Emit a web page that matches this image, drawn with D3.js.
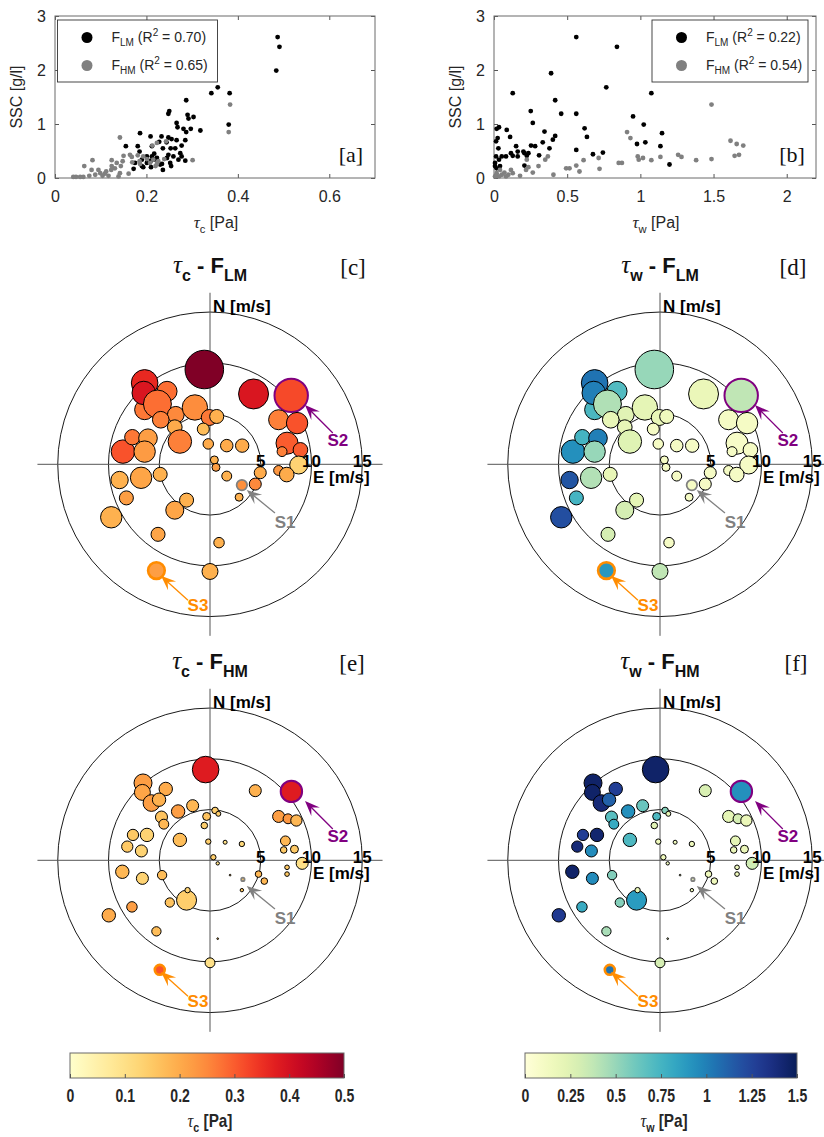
<!DOCTYPE html>
<html>
<head>
<meta charset="utf-8">
<script src="https://cdn.jsdelivr.net/npm/d3@7"></script>
<style>
  body { margin: 0; background: #fff; }
</style>
</head>
<body>
<svg id="fig" width="824" height="1137"></svg>
<script>
// ---- scatter [a]: tau_c [Pa] vs SSC [g/l]
const scatterA_LM = [[0.487,2.61],[0.491,2.43],[0.484,1.99],[0.356,1.68],[0.342,1.57],[0.382,1.57],[0.287,1.44],[0.380,0.99],
  [0.248,1.19],[0.250,1.24],[0.266,1.02],[0.290,1.17],[0.292,1.10],[0.303,1.13],[0.268,0.94],[0.281,0.91],[0.297,0.91],
  [0.318,0.88],[0.287,0.85],[0.186,0.83],[0.209,0.77],[0.233,0.77],[0.248,0.75],[0.255,0.72],[0.155,0.59],[0.181,0.59],
  [0.185,0.49],[0.212,0.59],[0.228,0.67],[0.244,0.66],[0.266,0.70],[0.285,0.70],[0.277,0.60],[0.263,0.55],[0.253,0.55],
  [0.236,0.55],[0.217,0.45],[0.201,0.40],[0.212,0.40],[0.223,0.37],[0.248,0.43],[0.259,0.40],[0.274,0.46],[0.270,0.34],
  [0.277,0.40],[0.285,0.32],[0.252,0.28],[0.234,0.26],[0.217,0.34],[0.201,0.28],[0.190,0.34],[0.193,0.20],[0.175,0.28],
  [0.172,0.17],[0.190,0.22],[0.210,0.20],[0.236,0.15],[0.230,0.25],[0.245,0.37],[0.254,0.22],[0.210,0.32]];
const scatterA_HM = [[0.383,1.36],[0.380,0.85],[0.301,0.33],[0.142,0.75],[0.243,0.68],[0.223,0.65],[0.213,0.60],[0.164,0.43],
  [0.150,0.41],[0.168,0.39],[0.181,0.42],[0.193,0.40],[0.201,0.35],[0.185,0.31],[0.169,0.29],[0.148,0.31],[0.135,0.28],
  [0.124,0.33],[0.208,0.28],[0.223,0.26],[0.215,0.34],[0.144,0.22],[0.131,0.18],[0.123,0.15],[0.112,0.12],[0.099,0.09],
  [0.109,0.08],[0.088,0.06],[0.080,0.15],[0.082,0.33],[0.075,0.04],[0.095,0.15],[0.064,0.22],[0.062,0.02],[0.055,0.02],
  [0.040,0.02],[0.046,0.02],[0.104,0.04],[0.117,0.04],[0.142,0.09],[0.139,0.03],[0.161,0.08],[0.124,0.22],[0.186,0.26],
  [0.226,0.31],[0.239,0.35],[0.220,0.22]];

// ---- scatter [b]: tau_w [Pa] vs SSC [g/l]
const scatterB_LM = [[0.562,2.61],[0.840,2.43],[0.390,1.94],[0.128,1.57],[0.767,1.68],[1.075,1.57],[0.418,1.44],[0.251,1.24],
  [0.459,1.19],[0.562,1.19],[0.265,1.02],[0.619,0.92],[0.950,1.14],[1.023,0.99],[0.977,0.63],[1.034,0.66],[1.148,0.83],
  [1.137,0.59],[1.199,0.25],[0.635,0.76],[0.676,0.44],[0.744,0.47],[0.562,0.52],[0.418,0.78],[0.402,0.71],[0.379,0.55],
  [0.345,0.86],[0.333,0.66],[0.308,0.42],[0.281,0.59],[0.253,0.60],[0.201,0.49],[0.224,0.41],[0.208,0.23],[0.151,0.59],
  [0.162,0.49],[0.162,0.40],[0.128,0.41],[0.110,0.76],[0.087,0.89],[0.034,0.94],[0.018,0.91],[0.025,0.74],[0.014,0.68],
  [0.030,0.55],[0.053,0.40],[0.034,0.34],[0.014,0.40],[0.007,0.28],[0.018,0.18],[0.041,0.22],[0.007,0.22],[0.082,0.40],
  [0.116,0.46],[0.208,0.46],[0.235,0.46]];
const scatterB_HM = [[1.486,1.36],[0.909,0.85],[0.932,0.74],[0.982,0.40],[1.018,0.37],[1.075,0.33],[0.989,0.34],[1.137,0.39],
  [1.258,0.43],[1.281,0.39],[1.381,0.33],[1.486,0.35],[1.616,0.69],[1.658,0.63],[1.703,0.60],[1.644,0.41],[1.674,0.43],
  [0.852,0.28],[0.874,0.28],[0.721,0.17],[0.715,0.37],[0.612,0.33],[0.584,0.12],[0.562,0.23],[0.493,0.18],[0.516,0.18],
  [0.406,0.06],[0.368,0.40],[0.350,0.34],[0.304,0.22],[0.265,0.10],[0.219,0.15],[0.235,0.20],[0.224,0.34],[0.178,0.04],
  [0.128,0.09],[0.116,0.15],[0.098,0.06],[0.082,0.03],[0.053,0.06],[0.034,0.03],[0.018,0.09],[0.007,0.03],[0.041,0.15],
  [0.071,0.10]];

const legendA = ["0.70", "0.65"];
const legendB = ["0.22", "0.54"];
const sscTicks = [0, 1, 2, 3];

// ---- wind bubbles: [east m/s, north m/s, SSC g/l, tau_c Pa, tau_w Pa, event]
const bubblesLM = [
  [-0.56,9.34,2.57,0.50,0.50],[4.29,6.93,1.55,0.39,0.18],[8.00,6.79,1.93,0.32,0.38,"S2"],
  [-6.44,5.38,0.69,0.27,0.73],[-6.44,8.02,1.22,0.36,1.05],[-6.53,7.03,0.95,0.39,1.00],[-4.23,7.19,0.69,0.28,0.70],
  [-5.18,5.94,1.35,0.28,0.43],[-3.37,4.88,0.48,0.25,0.24],[-4.85,4.39,0.48,0.26,0.20],[-1.49,5.60,1.11,0.245,0.22],
  [-0.07,4.61,0.44,0.27,0.20],[0.66,4.71,0.34,0.19,0.15],[-3.47,3.66,0.37,0.20,0.20],[-2.97,2.24,0.95,0.26,0.25],
  [-0.66,3.47,0.25,0.17,0.10],[-0.17,2.01,0.19,0.20,0.10],[1.65,1.84,0.27,0.20,0.10],[3.17,1.84,0.31,0.20,0.10],
  [-8.58,1.25,0.95,0.31,0.93],[-7.65,2.67,0.41,0.27,0.75],[-6.11,2.57,0.60,0.22,1.00],[-6.44,1.25,0.79,0.225,0.50],
  [6.76,4.39,0.69,0.26,0.10],[8.58,4.06,0.79,0.31,0.10],[7.59,2.08,0.84,0.30,0.08],[8.91,1.42,0.37,0.30,0.10],
  [7.10,1.25,0.17,0.26,0.10],[8.74,-0.07,0.56,0.13,0.10],[6.76,-0.61,0.17,0.23,0.10],[7.56,-1.01,0.37,0.20,0.10],
  [0.43,0.43,0.11,0.19,0.10],[0.59,-0.30,0.11,0.22,0.10],[1.65,-1.16,0.17,0.19,0.10],[4.95,-0.83,0.25,0.20,0.10],
  [4.46,-1.95,0.25,0.25,0.10],[3.14,-2.05,0.19,0.24,0.10,"S1"],[2.87,-3.24,0.11,0.19,0.10],
  [-8.91,-1.55,0.52,0.19,1.17],[-6.79,-1.33,0.79,0.21,0.42],[-4.91,-0.99,0.34,0.19,0.20],[-8.24,-3.31,0.34,0.22,0.75],
  [-9.73,-5.22,0.79,0.19,1.20],[-3.47,-4.52,0.56,0.21,0.30],[-2.31,-3.53,0.34,0.19,0.22],[-5.12,-6.90,0.34,0.21,0.30],
  [0.89,-7.72,0.19,0.19,0.10],[0.00,-10.56,0.44,0.19,0.38],[-5.28,-10.47,0.48,0.22,0.90,"S3"]
];
const bubblesHM = [
  [-0.43,8.94,1.22,0.38,1.45],[8.02,6.79,0.79,0.38,0.93,"S2"],[4.46,6.86,0.25,0.19,0.28],
  [-6.60,7.62,0.56,0.22,1.45],[-6.66,6.69,0.44,0.21,1.45],[-4.36,7.03,0.31,0.20,1.28],[-5.77,5.64,0.48,0.22,1.40],
  [-5.02,5.97,0.31,0.19,1.12],[-3.14,4.81,0.31,0.22,0.93],[-1.71,5.38,0.25,0.18,0.63],[-4.78,4.26,0.25,0.16,0.68],
  [-4.55,3.56,0.17,0.18,0.80],[-0.33,4.32,0.11,0.16,0.72],[0.50,4.91,0.075,0.14,0.55],[0.82,4.58,0.043,0.14,0.20],
  [-0.56,3.43,0.075,0.14,0.24],[-2.97,2.01,0.31,0.17,0.72],[-7.59,2.50,0.22,0.15,1.28],[-6.21,2.50,0.31,0.13,1.43],
  [-8.15,1.35,0.22,0.15,1.40],[-6.76,0.92,0.25,0.13,0.95],[-0.17,1.84,0.05,0.14,0.15],[1.49,1.78,0.028,0.10,0.15],
  [3.14,1.61,0.05,0.12,0.15],[6.76,4.32,0.25,0.22,0.22],[7.69,4.09,0.17,0.23,0.30],[8.51,3.92,0.22,0.18,0.18],
  [7.43,1.91,0.17,0.18,0.22],[7.26,1.02,0.075,0.15,0.18],[8.32,1.09,0.11,0.15,0.18],[9.08,-0.30,0.25,0.10,0.32],
  [0.33,0.30,0.05,0.14,0.15],[0.76,-0.30,0.02,0.10,0.15],[4.78,-1.36,0.075,0.18,0.15],[5.35,-2.05,0.075,0.18,0.15],
  [7.59,-0.69,0.037,0.15,0.15],[7.59,-1.36,0.037,0.15,0.15],[1.98,-1.46,0.005,0.15,0.15],
  [3.24,-1.88,0.02,0.15,0.15,"S1"],[3.14,-2.94,0.02,0.15,0.15],
  [-8.64,-1.13,0.31,0.18,1.45],[-6.66,-1.78,0.25,0.13,0.95],[-4.72,-1.46,0.15,0.17,0.56],[-9.97,-5.42,0.31,0.20,1.30],
  [-7.69,-4.59,0.19,0.22,0.80],[-2.31,-3.93,0.69,0.14,0.88],[-2.21,-2.94,0.05,0.13,0.20],[-3.96,-4.16,0.15,0.16,0.55],
  [-5.28,-7.00,0.15,0.17,0.45],[0.76,-7.72,0.005,0.15,0.15],[0.00,-10.10,0.17,0.10,0.30],[-4.95,-10.79,0.17,0.31,1.05,"S3"]
];

// event annotations (arrow tip, arrow tail, label) in wind coordinates
const events = [
  { id: "S1", color: "#808080", width: 1.8, tip: [3.62,-2.53], tail: [6.4,-4.8], label: [7.4,-6.28] },
  { id: "S2", color: "#800080", width: 2.0, tip: [9.36,5.84], tail: [12.1,3.08], label: [12.6,1.8] },
  { id: "S3", color: "#ff8c00", width: 2.6, tip: [-4.83,-10.99], tail: [-2.17,-13.4], label: [-1.18,-14.45] }
];

const ringRadii = [5, 10, 15];
const tauCTicks = [0, 0.1, 0.2, 0.3, 0.4, 0.5];
const tauWTicks = [0, 0.25, 0.5, 0.75, 1, 1.25, 1.5];

const sans = '"Liberation Sans", Arial, Helvetica, sans-serif';
const serif = '"Liberation Serif", "Times New Roman", serif';
const narrow = '"Liberation Sans Narrow", "Liberation Sans", sans-serif';

const svg = d3.select("#fig");
const colorC = d3.scaleSequential(d3.interpolateYlOrRd).domain([0, 0.5]);
const colorW = d3.scaleSequential(d3.interpolateYlGnBu).domain([0, 1.5]);
const size = d3.scaleSqrt().domain([0, 2.6]).range([0, 19.4]);

function tauLabel(sel, sub, fs, rest) {
    sel.append("tspan").attr("font-family", serif).attr("font-style", "italic").attr("font-weight", "normal")
        .attr("font-size", fs + 1).text("τ");
    sel.append("tspan").attr("font-size", fs * 0.7).attr("dy", fs * 0.3).text(sub);
    sel.append("tspan").attr("dy", -fs * 0.3).text(rest);
}

function drawScatter(o) {
    const g = svg.append("g");
    const x = d3.scaleLinear().domain(o.xDomain).range([o.left, o.right]);
    const y = d3.scaleLinear().domain([0, 3]).range([o.bottom, o.top]);

    const axes = [
        g.append("g").attr("transform", `translate(0,${o.bottom})`)
            .call(d3.axisBottom(x).tickValues(o.xTicks).tickSize(-4).tickPadding(13).tickFormat(d3.format(""))),
        g.append("g").attr("transform", `translate(0,${o.top})`)
            .call(d3.axisTop(x).tickValues(o.xTicks).tickSize(-4).tickFormat("")),
        g.append("g").attr("transform", `translate(${o.left},0)`)
            .call(d3.axisLeft(y).tickValues(sscTicks).tickSize(-4).tickPadding(9).tickFormat(d3.format(""))),
        g.append("g").attr("transform", `translate(${o.right},0)`)
            .call(d3.axisRight(y).tickValues(sscTicks).tickSize(-4).tickFormat(""))
    ];
    axes.forEach(a => {
        a.select(".domain").remove();
        a.attr("font-family", sans).attr("font-size", 16);
        a.selectAll("line").attr("stroke", "#555");
        a.selectAll("text").attr("fill", "#262626");
    });
    g.append("rect")
        .attr("x", o.left).attr("y", o.top)
        .attr("width", o.right - o.left).attr("height", o.bottom - o.top)
        .attr("fill", "none").attr("stroke", "#6a6a6a").attr("stroke-width", 1);

    g.selectAll(".lm").data(o.lm).enter().append("circle")
        .attr("cx", d => x(d[0])).attr("cy", d => y(d[1])).attr("r", 2.4).attr("fill", "#000");
    g.selectAll(".hm").data(o.hm).enter().append("circle")
        .attr("cx", d => x(d[0])).attr("cy", d => y(d[1])).attr("r", 2.4).attr("fill", "#808080");

    // legend
    g.append("rect").attr("x", o.legX).attr("y", 20).attr("width", o.legW).attr("height", 62)
        .attr("fill", "#fff").attr("stroke", "#333").attr("stroke-width", 0.9);
    ["LM", "HM"].forEach((name, i) => {
        const cy = 37.5 + i * 28;
        g.append("circle").attr("cx", o.legX + 29.5).attr("cy", cy).attr("r", 5.5)
            .attr("fill", i === 0 ? "#000" : "#808080");
        const t = g.append("text").attr("x", o.legX + 54).attr("y", cy + 4.5)
            .attr("font-family", sans).attr("font-size", 14).attr("fill", "#262626");
        t.append("tspan").text("F");
        t.append("tspan").attr("font-size", 10).attr("dy", 4).text(name);
        t.append("tspan").attr("dy", -4).text(" (R");
        t.append("tspan").attr("font-size", 10).attr("dy", -6).text("2");
        t.append("tspan").attr("dy", 6).text(" = " + o.r2[i] + ")");
    });

    g.append("text").attr("x", o.right - 24).attr("y", 162).attr("text-anchor", "middle")
        .attr("font-family", serif).attr("font-size", 22).attr("fill", "#111").text(o.tag);

    g.append("text").attr("transform", `translate(${o.left - 33},${(o.top + o.bottom) / 2}) rotate(-90)`)
        .attr("text-anchor", "middle").attr("font-family", sans).attr("font-size", 16).attr("fill", "#262626")
        .text("SSC [g/l]");
    const xl = g.append("text").attr("x", (o.left + o.right) / 2 + 1).attr("y", 228)
        .attr("text-anchor", "middle").attr("font-family", sans).attr("font-size", 16).attr("fill", "#262626");
    tauLabel(xl, o.sub, 16, " [Pa]");
}

drawScatter({ left: 55, right: 375, top: 16, bottom: 178, xDomain: [0, 0.7], xTicks: [0, 0.2, 0.4, 0.6],
    lm: scatterA_LM, hm: scatterA_HM, legX: 57.5, legW: 160, r2: legendA, tag: "[a]", sub: "c" });
drawScatter({ left: 494, right: 816, top: 16, bottom: 178, xDomain: [0, 2.2], xTicks: [0, 0.5, 1, 1.5, 2],
    lm: scatterB_LM, hm: scatterB_HM, legX: 652, legW: 156, r2: legendB, tag: "[b]", sub: "w" });

function drawPolar(o) {
    const g = svg.append("g");
    const k = 10.15;
    const x = d3.scaleLinear().domain([-17, 17]).range([o.cx - 17 * k, o.cx + 17 * k]);
    const y = d3.scaleLinear().domain([-17, 17]).range([o.cy + 17 * k, o.cy - 17 * k]);

    ringRadii.forEach(r => {
        g.append("ellipse").attr("cx", x(0)).attr("cy", y(0))
            .attr("rx", x(r) - x(0)).attr("ry", y(0) - y(r))
            .attr("fill", "none").attr("stroke", "#000").attr("stroke-width", 0.9);
    });
    g.append("line").attr("x1", x(-17)).attr("x2", x(17)).attr("y1", y(0)).attr("y2", y(0))
        .attr("stroke", "#555").attr("stroke-width", 1);
    g.append("line").attr("x1", x(0)).attr("x2", x(0)).attr("y1", y(16.9)).attr("y2", y(-16.9))
        .attr("stroke", "#555").attr("stroke-width", 1);

    const col = o.field === 3 ? colorC : colorW;
    g.selectAll(".b").data(o.rows).enter().append("circle")
        .attr("cx", d => x(d[0])).attr("cy", d => y(d[1]))
        .attr("r", d => Math.max(size(d[2]), 0.6))
        .attr("fill", d => col(d[o.field]))
        .attr("stroke", d => d[5] ? events.find(e => e.id === d[5]).color : "#000")
        .attr("stroke-width", d => d[5] ? events.find(e => e.id === d[5]).width : 1);

    // tick labels and axis names
    ringRadii.forEach(r => {
        g.append("text").attr("x", x(r)).attr("y", y(0) + 2.5).attr("text-anchor", "middle")
            .attr("font-family", sans).attr("font-weight", "bold").attr("font-size", 17).text(r);
    });
    g.append("text").attr("x", x(0) + 3).attr("y", y(0) - 152)
        .attr("font-family", sans).attr("font-weight", "bold").attr("font-size", 17).text("N [m/s]");
    g.append("text").attr("x", x(0) + 103).attr("y", y(0) + 19)
        .attr("font-family", sans).attr("font-weight", "bold").attr("font-size", 17).text("E [m/s]");

    // events
    events.forEach(e => {
        const tip = [x(e.tip[0]), y(e.tip[1])], tail = [x(e.tail[0]), y(e.tail[1])];
        const dx = tip[0] - tail[0], dy = tip[1] - tail[1], L = Math.hypot(dx, dy);
        const ux = dx / L, uy = dy / L, vx = -uy, vy = ux;
        g.append("line").attr("x1", tail[0]).attr("y1", tail[1])
            .attr("x2", tip[0] - 8 * ux).attr("y2", tip[1] - 8 * uy)
            .attr("stroke", e.color).attr("stroke-width", 1.3);
        const pts = [tip,
            [tip[0] - 15 * ux + 6 * vx, tip[1] - 15 * uy + 6 * vy],
            [tip[0] - 9 * ux, tip[1] - 9 * uy],
            [tip[0] - 15 * ux - 6 * vx, tip[1] - 15 * uy - 6 * vy]];
        g.append("path").attr("d", "M" + pts.join("L") + "Z").attr("fill", e.color);
        g.append("text").attr("x", x(e.label[0])).attr("y", y(e.label[1])).attr("text-anchor", "middle")
            .attr("font-family", sans).attr("font-weight", "bold").attr("font-size", 17)
            .attr("fill", e.color).text(e.id);
    });

    // title
    const t = g.append("text").attr("x", x(0)).attr("y", y(0) - 191).attr("text-anchor", "middle")
        .attr("font-family", sans).attr("font-weight", "bold").attr("font-size", 22).attr("fill", "#111");
    t.append("tspan").attr("font-family", serif).attr("font-style", "italic").attr("font-weight", "normal")
        .attr("font-size", 25).text("τ");
    t.append("tspan").attr("font-size", 16).attr("dy", 8).text(o.sub);
    t.append("tspan").attr("dy", -8).text(" - F");
    t.append("tspan").attr("font-size", 16).attr("dy", 8).text(o.flux);
    g.append("text").attr("x", x(0) + o.tagDx).attr("y", y(0) - 189).attr("text-anchor", "middle")
        .attr("font-family", serif).attr("font-size", 23).attr("fill", "#111").text(o.tag);
}

drawPolar({ cx: 210, cy: 464.3, rows: bubblesLM, field: 3, sub: "c", flux: "LM", tag: "[c]", tagDx: 143 });
drawPolar({ cx: 660, cy: 464.3, rows: bubblesLM, field: 4, sub: "w", flux: "LM", tag: "[d]", tagDx: 133 });
drawPolar({ cx: 210, cy: 860.3, rows: bubblesHM, field: 3, sub: "c", flux: "HM", tag: "[e]", tagDx: 142 });
drawPolar({ cx: 660, cy: 860.3, rows: bubblesHM, field: 4, sub: "w", flux: "HM", tag: "[f]", tagDx: 136 });

function drawColorbar(o) {
    const g = svg.append("g");
    const x = d3.scaleLinear().domain(o.scale.domain()).range([o.left, o.right]);
    const id = "grad" + o.sub;
    const grad = svg.append("defs").append("linearGradient").attr("id", id);
    d3.range(0, 1.0001, 0.05).forEach(f => {
        const v = o.scale.domain()[0] + f * (o.scale.domain()[1] - o.scale.domain()[0]);
        grad.append("stop").attr("offset", f).attr("stop-color", o.scale(v));
    });
    g.append("rect").attr("x", o.left).attr("y", 1053).attr("width", o.right - o.left).attr("height", 25)
        .attr("fill", `url(#${id})`).attr("stroke", "#6a6a6a").attr("stroke-width", 1);
    const ax = g.append("g").attr("transform", "translate(0,1078)")
        .call(d3.axisBottom(x).tickValues(o.ticks).tickSize(-4).tickPadding(11).tickFormat(d3.format("")));
    ax.select(".domain").remove();
    ax.attr("font-family", narrow).attr("font-size", 18).attr("font-weight", "bold");
    ax.selectAll("line").attr("stroke", "#555");
    ax.selectAll("text").attr("fill", "#262626").attr("transform", "scale(0.78,1)");
    const t = g.append("text")
        .attr("transform", `translate(${(o.left + o.right) / 2 + 3},1127) scale(0.85,1)`)
        .attr("text-anchor", "middle")
        .attr("font-family", narrow).attr("font-weight", "bold").attr("font-size", 18).attr("fill", "#262626");
    tauLabel(t, o.sub, 18, " [Pa]");
}

drawColorbar({ left: 70, right: 344, scale: colorC, ticks: tauCTicks, sub: "c" });
drawColorbar({ left: 525, right: 797, scale: colorW, ticks: tauWTicks, sub: "w" });
</script>
</body>
</html>
